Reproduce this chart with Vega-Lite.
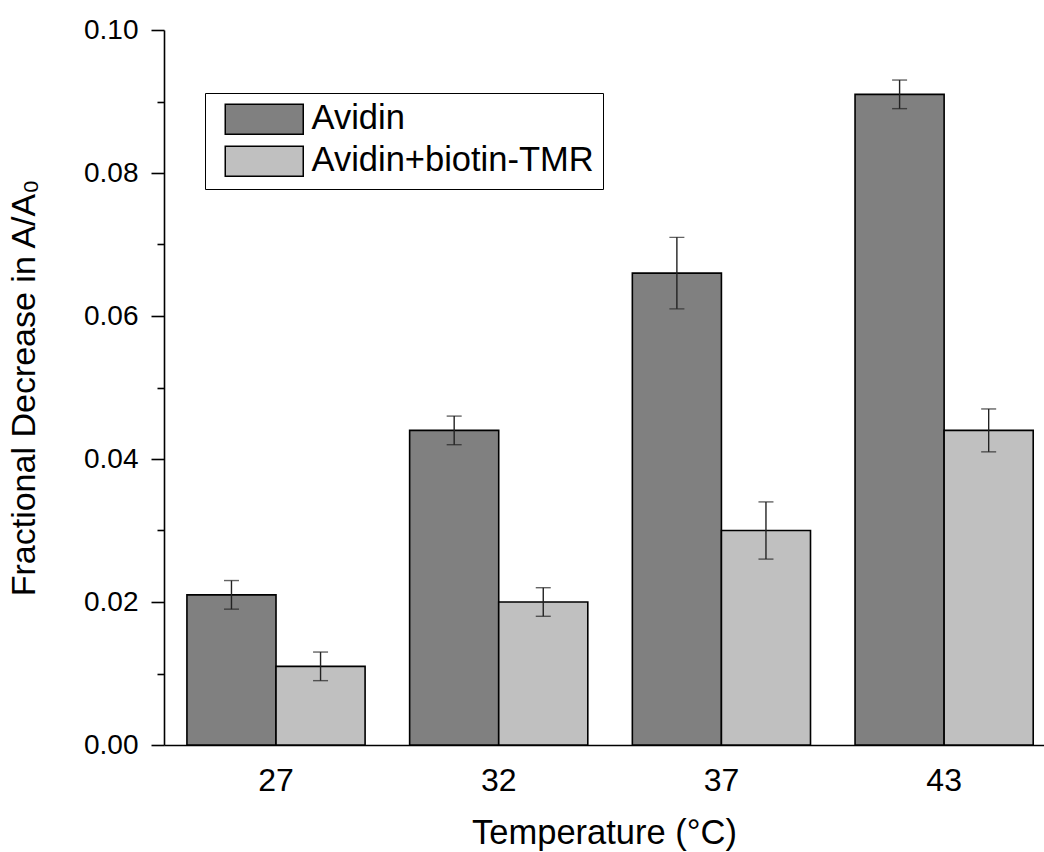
{
  "$schema": "https://vega.github.io/schema/vega-lite/v6.json",
  "autosize": {"type": "none"},
  "padding": {"left": 164, "top": 30, "right": 0, "bottom": 107},
  "width": 880,
  "height": 715,
  "background": "white",
  "config": {
    "view": {"stroke": null},
    "font": "Liberation Sans",
    "axis": {"domainColor": "black", "tickColor": "black", "labelColor": "black", "titleColor": "black", "grid": false, "labelFont": "Liberation Sans", "titleFont": "Liberation Sans", "titleFontWeight": "normal"},
    "legend": {"labelFont": "Liberation Sans"}
  },
  "data": {
    "values": [
      {"temp": "27", "series": "Avidin", "value": 0.021, "lo": 0.019, "hi": 0.023},
      {"temp": "27", "series": "Avidin+biotin-TMR", "value": 0.011, "lo": 0.009, "hi": 0.013},
      {"temp": "32", "series": "Avidin", "value": 0.044, "lo": 0.042, "hi": 0.046},
      {"temp": "32", "series": "Avidin+biotin-TMR", "value": 0.020, "lo": 0.018, "hi": 0.022},
      {"temp": "37", "series": "Avidin", "value": 0.066, "lo": 0.061, "hi": 0.071},
      {"temp": "37", "series": "Avidin+biotin-TMR", "value": 0.030, "lo": 0.026, "hi": 0.034},
      {"temp": "43", "series": "Avidin", "value": 0.091, "lo": 0.089, "hi": 0.093},
      {"temp": "43", "series": "Avidin+biotin-TMR", "value": 0.044, "lo": 0.041, "hi": 0.047}
    ]
  },
  "resolve": {"axis": {"y": "independent"}},
  "layer": [
    {
      "mark": {"type": "bar", "stroke": "black", "strokeWidth": 1.6},
      "encoding": {
        "x": {
          "field": "temp", "type": "nominal", "sort": null,
          "scale": {"paddingInner": 0.2, "paddingOuter": 0.0757, "align": 0.68},
          "axis": {"title": "Temperature (°C)", "orient": "bottom", "labelAngle": 0, "ticks": false, "labelPadding": 20, "labelFontSize": 32, "titleFontSize": 34.5, "titlePadding": 20, "domainWidth": 1.6, "domain": true}
        },
        "xOffset": {"field": "series", "type": "nominal", "sort": null},
        "y": {
          "field": "value", "type": "quantitative",
          "scale": {"domain": [0, 0.1], "nice": false},
          "axis": {"title": "Fractional Decrease in A/A₀", "orient": "left", "values": [0, 0.02, 0.04, 0.06, 0.08, 0.1], "format": ".2f", "tickSize": 13, "tickWidth": 1.6, "domainWidth": 1.6, "labelPadding": 13, "labelFontSize": 28, "titleFontSize": 34, "titlePadding": 42}
        },
        "color": {
          "field": "series", "type": "nominal", "sort": null,
          "scale": {"domain": ["Avidin", "Avidin+biotin-TMR"], "range": ["#808080", "#c0c0c0"]},
          "legend": {
            "title": null, "orient": "none", "legendX": 41, "legendY": 63, "direction": "vertical",
            "strokeColor": "black", "fillColor": "white", "padding": 9,
            "symbolType": "M-2.6,-1L2.6,-1L2.6,1L-2.6,1Z", "symbolSize": 900,
            "symbolStrokeColor": "black", "symbolStrokeWidth": 1.5, "symbolOpacity": 1,
            "symbolOffset": 33,
            "labelFontSize": 34.5, "labelOffset": 30, "rowPadding": 5, "labelColor": "black", "labelLimit": 0
          }
        }
      }
    },
    {
      "mark": {"type": "rule", "color": "#222222", "strokeWidth": 1.4},
      "encoding": {
        "x": {"field": "temp", "type": "nominal", "sort": null},
        "xOffset": {"field": "series", "type": "nominal", "sort": null},
        "y": {"field": "lo", "type": "quantitative", "axis": null},
        "y2": {"field": "hi"}
      }
    },
    {
      "mark": {"type": "tick", "color": "#222222", "thickness": 1.4, "size": 15, "orient": "horizontal"},
      "encoding": {
        "x": {"field": "temp", "type": "nominal", "sort": null},
        "xOffset": {"field": "series", "type": "nominal", "sort": null},
        "y": {
          "field": "lo", "type": "quantitative",
          "axis": {"orient": "left", "title": null, "values": [0.01, 0.03, 0.05, 0.07, 0.09], "labels": false, "domain": false, "tickSize": 7, "tickWidth": 1.6, "grid": false}
        }
      }
    },
    {
      "mark": {"type": "tick", "color": "#222222", "thickness": 1.4, "size": 15, "orient": "horizontal"},
      "encoding": {
        "x": {"field": "temp", "type": "nominal", "sort": null},
        "xOffset": {"field": "series", "type": "nominal", "sort": null},
        "y": {"field": "hi", "type": "quantitative", "axis": null}
      }
    }
  ]
}
